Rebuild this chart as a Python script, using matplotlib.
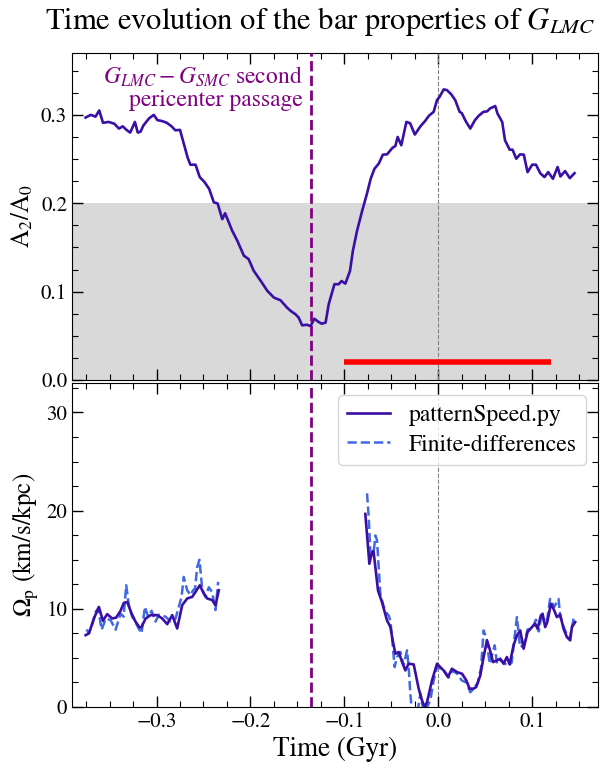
import numpy as np
import matplotlib
matplotlib.use("Agg")
import matplotlib.pyplot as plt
from matplotlib.ticker import MultipleLocator

plt.rcParams['font.family'] = ['STIXGeneral', 'DejaVu Serif']
plt.rcParams['mathtext.fontset'] = 'stix'

# ---------------- data ----------------
t_a2 = [-0.3755, -0.370, -0.365, -0.361, -0.357, -0.351, -0.345, -0.340, -0.336, -0.332,
        -0.328, -0.323, -0.320, -0.317, -0.314, -0.308, -0.303, -0.299, -0.294, -0.289,
        -0.284, -0.280, -0.275, -0.271, -0.267, -0.264, -0.2585, -0.254, -0.249, -0.244,
        -0.239, -0.235, -0.230, -0.227, -0.2195, -0.214, -0.207, -0.202, -0.1965, -0.189,
        -0.182, -0.175, -0.168, -0.161, -0.157, -0.152, -0.1486, -0.145, -0.140, -0.136,
        -0.132, -0.128, -0.124, -0.120, -0.1167, -0.1106, -0.106, -0.103, -0.099, -0.094,
        -0.091, -0.0865, -0.081, -0.076, -0.072, -0.068, -0.0635, -0.059, -0.0546, -0.049,
        -0.0457, -0.0433, -0.0394, -0.034, -0.030, -0.025, -0.019, -0.014, -0.010, -0.005,
        -0.0014, 0.0014, 0.0057, 0.0092, 0.0138, 0.018, 0.0227, 0.025, 0.029, 0.034,
        0.039, 0.043, 0.048, 0.052, 0.055, 0.0606, 0.063, 0.068, 0.071, 0.076,
        0.079, 0.083, 0.087, 0.091, 0.095, 0.100, 0.104, 0.1085, 0.113, 0.117,
        0.122, 0.127, 0.130, 0.135, 0.140, 0.145]
a2 = [0.297, 0.300, 0.298, 0.305, 0.291, 0.292, 0.290, 0.2845, 0.287, 0.283,
      0.280, 0.292, 0.280, 0.281, 0.288, 0.296, 0.300, 0.294, 0.293, 0.291,
      0.287, 0.2826, 0.283, 0.2675, 0.252, 0.2436, 0.2436, 0.2296, 0.224, 0.2163,
      0.201, 0.1998, 0.182, 0.1887, 0.169, 0.1576, 0.1406, 0.1368, 0.1235, 0.112,
      0.1008, 0.0932, 0.0902, 0.0818, 0.078, 0.0743, 0.0705, 0.0618, 0.0625, 0.061,
      0.0693, 0.066, 0.0636, 0.065, 0.0857, 0.1084, 0.1084, 0.112, 0.109, 0.1235,
      0.146, 0.169, 0.1917, 0.2107, 0.2277, 0.239, 0.2447, 0.255, 0.2553, 0.2625,
      0.2648, 0.275, 0.2656, 0.292, 0.2905, 0.2777, 0.2871, 0.2932, 0.299, 0.3034,
      0.3167, 0.3205, 0.3288, 0.328, 0.3232, 0.3167, 0.3034, 0.302, 0.2932, 0.2845,
      0.294, 0.299, 0.3034, 0.304, 0.3072, 0.310, 0.3015, 0.292, 0.2712, 0.2606,
      0.2606, 0.2504, 0.2553, 0.255, 0.2352, 0.2436, 0.2436, 0.234, 0.2296, 0.2352,
      0.2277, 0.241, 0.2303, 0.2364, 0.2284, 0.234]

# pattern speed (patternSpeed.py), two segments
t_ps1 = [-0.3755, -0.372, -0.3667, -0.3614, -0.3571, -0.3525, -0.3472, -0.343, -0.3383, -0.3348,
         -0.3312, -0.3266, -0.3223, -0.318, -0.316, -0.3117, -0.3064, -0.2993, -0.294, -0.2886,
         -0.2833, -0.278, -0.2727, -0.2674, -0.262, -0.2596, -0.2539, -0.2497, -0.246, -0.2408,
         -0.2372, -0.2337]
ps1 = [7.32, 7.5, 9.0, 10.2, 8.78, 9.46, 9.02, 9.1, 9.8, 10.61,
       10.7, 9.53, 8.68, 8.1, 8.15, 9.0, 9.36, 9.36, 9.02, 8.44,
       9.36, 8.0, 10.37, 11.05, 11.22, 11.56, 12.4, 11.56, 11.05, 10.9,
       10.37, 11.9]
t_ps2 = [-0.0777, -0.0734, -0.0706, -0.069, -0.0642, -0.06, -0.0546, -0.051, -0.0486, -0.0457,
         -0.0422, -0.0386, -0.0351, -0.0316, -0.0262, -0.0209, -0.0174, -0.0145, -0.012, -0.0067,
         -0.0014, 0.002, 0.0056, 0.0103, 0.0145, 0.0199, 0.0252, 0.0298, 0.0333, 0.0376,
         0.0404, 0.0447, 0.0482, 0.0518, 0.0546, 0.0582, 0.0624, 0.066, 0.0695, 0.073,
         0.0759, 0.0801, 0.0837, 0.0872, 0.0908, 0.095, 0.0997, 0.1032, 0.1057, 0.1092,
         0.111, 0.1138, 0.116, 0.1199, 0.1234, 0.1262, 0.1298, 0.1333, 0.1369, 0.1404,
         0.1422, 0.1457]
ps2 = [19.67, 14.59, 15.77, 15.9, 11.87, 10.68, 8.82, 8.14, 6.79, 5.43,
       5.6, 4.58, 3.73, 4.41, 4.34, 1.87, 0.68, 0.0, 0.5, 2.72,
       4.41, 4.07, 3.73, 3.05, 3.9, 3.56, 3.39, 2.72, 1.87, 1.87,
       2.04, 3.22, 5.09, 6.79, 5.94, 4.58, 4.75, 4.92, 4.41, 5.09,
       4.34, 6.28, 7.29, 7.8, 5.94, 7.63, 8.14, 8.48, 7.97, 9.33,
       9.5, 8.14, 8.65, 10.52, 9.84, 9.16, 9.4, 7.97, 7.12, 6.79,
       8.14, 8.65]

# finite differences, two segments
t_fd1 = [-0.3745, -0.372, -0.369, -0.3649, -0.362, -0.3585, -0.354, -0.3489, -0.3436, -0.3383,
         -0.335, -0.3323, -0.3295, -0.326, -0.323, -0.3202, -0.316, -0.3124, -0.3089, -0.3053,
         -0.3011, -0.2975, -0.2904, -0.285, -0.2798, -0.2734, -0.271, -0.2674, -0.2638, -0.261,
         -0.259, -0.2567, -0.2543, -0.2514, -0.248, -0.2443, -0.2408, -0.2372, -0.2344]
fd1 = [7.9, 7.5, 8.2, 9.7, 10.0, 7.87, 9.0, 8.85, 7.87, 9.5,
       9.2, 12.4, 10.4, 9.2, 8.8, 8.2, 7.5, 10.2, 9.2, 9.8,
       8.7, 9.4, 9.2, 8.7, 9.0, 11.2, 13.25, 11.9, 11.4, 11.9,
       12.05, 14.27, 15.0, 12.05, 11.2, 12.2, 11.7, 9.87, 12.75]
t_fd2 = [-0.0759, -0.0741, -0.0723, -0.0688, -0.067, -0.0652, -0.0635, -0.0617, -0.058, -0.0546,
         -0.0528, -0.0511, -0.0493, -0.0465, -0.044, -0.0404, -0.0369, -0.0333, -0.0316, -0.0298,
         -0.028, -0.0227, -0.0191, -0.0156, -0.012, -0.0085, -0.005, -0.0014, 0.003, 0.007,
         0.011, 0.015, 0.020, 0.025, 0.030, 0.034, 0.038, 0.042, 0.0455, 0.0482,
         0.0515, 0.0546, 0.060, 0.0625, 0.066, 0.070, 0.074, 0.078, 0.0837, 0.087,
         0.091, 0.095, 0.0997, 0.104, 0.107, 0.110, 0.113, 0.116, 0.119, 0.1234,
         0.128, 0.1298, 0.133, 0.137, 0.140, 0.144]
fd2 = [21.77, 19.33, 15.6, 15.8, 17.47, 16.96, 14.24, 11.5, 10.17, 9.5,
       9.33, 8.8, 7.12, 4.07, 5.09, 5.6, 4.24, 5.77, 4.07, 1.36,
       -0.5, -0.8, 1.36, -0.5, 0.0, 0.68, 2.7, 4.07, 3.9, 3.6,
       3.0, 3.7, 3.4, 2.7, 2.5, 1.5, 1.9, 2.5, 4.0, 7.8,
       6.9, 4.4, 6.28, 4.4, 4.8, 4.5, 4.2, 4.5, 9.16, 6.1,
       6.3, 7.9, 8.0, 8.9, 7.7, 9.6, 8.5, 9.0, 11.0, 10.2,
       11.0, 9.2, 8.3, 7.3, 7.0, 9.0]

t_pericenter = -0.136
t_bar = [-0.1, 0.12]
a2_bar = 0.02
a2_threshold = 0.2

x_ticks = [-0.3, -0.2, -0.1, 0.0, 0.1]
x_labels = ['\u22120.3', '\u22120.2', '\u22120.1', '0.0', '0.1']

c_solid = '#3a0fa6'
c_dash = '#4169e1'
c_peri = '#800080'

fig = plt.figure(figsize=(6.03, 7.65), dpi=100)
ax1 = fig.add_axes([0.1194, 0.5033, 0.8723, 0.4274])
ax2 = fig.add_axes([0.1194, 0.0758, 0.8723, 0.4235], sharex=ax1)

# top panel
ax1.axhspan(0, a2_threshold, color='#d9d9d9', lw=0, zorder=0)
ax1.plot(t_a2, a2, color=c_solid, lw=1.9, zorder=3)
ax1.plot(t_bar, [a2_bar, a2_bar], color='red', lw=4, solid_capstyle='butt', zorder=3)
ax1.axvline(t_pericenter, color=c_peri, ls='--', lw=2, zorder=4)
ax1.axvline(0.0, color='gray', ls='--', lw=0.8, zorder=2)
ax1.text(-0.1445, 0.357, '$G_{LMC} - G_{SMC}$ second\npericenter passage',
         ha='right', va='top', color=c_peri, fontsize=17, linespacing=1.02)
ax1.set_ylim(0, 0.37)
ax1.set_ylabel('A$_2$/A$_0$', fontsize=18)
ax1.yaxis.set_major_locator(MultipleLocator(0.1))
ax1.yaxis.set_minor_locator(MultipleLocator(0.025))
fig.text(0.531, 0.962, 'Time evolution of the bar properties of $G_{LMC}$',
         ha='center', va='baseline', fontsize=22)

# bottom panel
ax2.plot(t_ps1, ps1, color=c_solid, lw=1.9, label='patternSpeed.py', zorder=3)
ax2.plot(t_ps2, ps2, color=c_solid, lw=1.9, zorder=3)
ax2.plot(t_fd1, fd1, color=c_dash, lw=1.8, ls='--', label='Finite-differences', zorder=2)
ax2.plot(t_fd2, fd2, color=c_dash, lw=1.8, ls='--', zorder=2)
ax2.axvline(t_pericenter, color=c_peri, ls='--', lw=2, zorder=4)
ax2.axvline(0.0, color='gray', ls='--', lw=0.8, zorder=1)
ax2.set_ylim(0, 33)
ax2.set_xlim(-0.39, 0.17)
ax2.yaxis.set_major_locator(MultipleLocator(10))
ax2.yaxis.set_minor_locator(MultipleLocator(2.5))
ax2.set_xticks(x_ticks)
ax2.set_xticklabels(x_labels)
ax2.xaxis.set_minor_locator(MultipleLocator(0.025))
ax2.set_ylabel(r'$\Omega_{\rm p}$ (km/s/kpc)', fontsize=18)
ax2.set_xlabel('Time (Gyr)', fontsize=19.5, labelpad=4)
ax2.legend(loc='upper right', fontsize=17, handlelength=1.8, borderaxespad=0.5,
           labelspacing=0.35)

for ax in (ax1, ax2):
    ax.tick_params(which='both', direction='in', top=True, right=True, labelsize=15)
    ax.tick_params(which='major', length=8, width=1)
    ax.tick_params(which='minor', length=4.5, width=0.8)
plt.setp(ax1.get_xticklabels(), visible=False)

fig.savefig('out.png', dpi=100)
